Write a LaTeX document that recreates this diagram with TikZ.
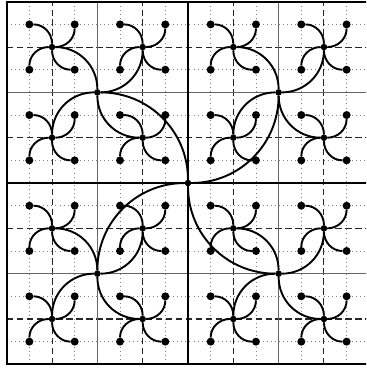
\documentclass[tikz,border=0pt]{standalone}
\newcommand\pinwheel[3]{%
  \pgfmathtruncatemacro\pwl{#1-#3}\pgfmathtruncatemacro\pwr{#1+#3}%
  \pgfmathtruncatemacro\pwb{#2-#3}\pgfmathtruncatemacro\pwt{#2+#3}%
  \draw[link] (p-#1-#2) to[out=90,in=0] (p-\pwl-\pwt)
              (p-#1-#2) to[out=0,in=-90] (p-\pwr-\pwt)
              (p-#1-#2) to[out=-90,in=180] (p-\pwr-\pwb)
              (p-#1-#2) to[out=180,in=90] (p-\pwl-\pwb);}
\begin{document}
\begin{tikzpicture}[x=1cm,y=1cm,
  leaf/.style={circle,fill=black,inner sep=0pt,minimum size=10pt},
  hub/.style={circle,fill=black,inner sep=0pt,minimum size=8.2pt},
  link/.style={black,line width=2.4pt},
  fine/.style={black!50,line width=1.1pt,dash pattern=on 1.1pt off 4pt},
  mid/.style={black!85,line width=1.3pt,dash pattern=on 8pt off 4.5pt},
  major/.style={black!60,line width=1.7pt},
  frame/.style={black,line width=2.4pt}]
\useasboundingbox (-0.296,-0.163) rectangle (15.86,16.077);
\clip (-0.296,-0.163) rectangle (15.86,16.077);
% grid
\foreach \i in {1,3,...,15} {
  \draw[fine] (\i,0) -- (\i,16);
  \draw[fine] (0,\i) -- (16,\i);
}
\foreach \i in {2,6,10,14} {
  \draw[mid] (\i,0) -- (\i,16);
  \draw[mid] (0,\i) -- (16,\i);
}
\foreach \i in {4,12} {
  \draw[major] (\i,0) -- (\i,16);
  \draw[major] (0,\i) -- (16,\i);
}
\draw[frame] (8,0) -- (8,16) (0,8) -- (16,8);
\draw[frame] (0,0) rectangle (16,16);
% points
\foreach \x in {1,3,...,15} \foreach \y in {1,3,...,15}
  \node[leaf] (p-\x-\y) at (\x,\y) {};
\foreach \x in {2,6,10,14} \foreach \y in {2,6,10,14}
  \node[hub] (p-\x-\y) at (\x,\y) {};
\foreach \x in {4,12} \foreach \y in {4,12}
  \node[hub] (p-\x-\y) at (\x,\y) {};
\node[hub] (p-8-8) at (8,8) {};
% connectors
\foreach \x in {2,6,10,14} \foreach \y in {2,6,10,14} {\pinwheel{\x}{\y}{1}}
\foreach \x in {4,12} \foreach \y in {4,12} {\pinwheel{\x}{\y}{2}}
\pinwheel{8}{8}{4}
\end{tikzpicture}
\end{document}
